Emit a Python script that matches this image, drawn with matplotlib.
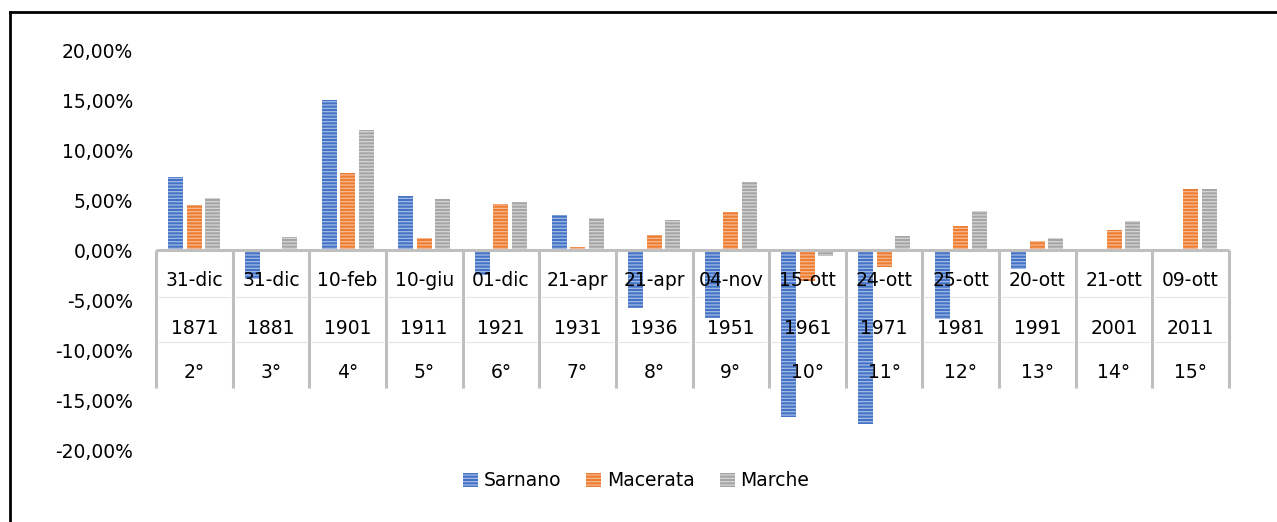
import matplotlib
matplotlib.use('Agg')
import matplotlib.pyplot as plt
from matplotlib.lines import Line2D
from matplotlib.patches import Patch
import numpy as np

# ---- data ----
dates = ['31-dic', '31-dic', '10-feb', '10-giu', '01-dic', '21-apr', '21-apr',
         '04-nov', '15-ott', '24-ott', '25-ott', '20-ott', '21-ott', '09-ott']
years = ['1871', '1881', '1901', '1911', '1921', '1931', '1936',
         '1951', '1961', '1971', '1981', '1991', '2001', '2011']
census = ['2°', '3°', '4°', '5°', '6°', '7°', '8°',
          '9°', '10°', '11°', '12°', '13°', '14°', '15°']
sarnano = [7.3, -2.9, 15.0, 5.4, -2.5, 3.5, -5.8, -6.8, -16.7, -17.4, -6.9, -1.9, 0.0, 0.0]
macerata = [4.5, 0.0, 7.7, 1.2, 4.6, 0.3, 1.5, 3.8, -3.1, -1.7, 2.4, 0.9, 2.0, 6.1]
marche = [5.2, 1.3, 12.0, 5.1, 4.8, 3.2, 3.0, 6.8, -0.6, 1.4, 3.9, 1.2, 2.9, 6.1]
series_names = ['Sarnano', 'Macerata', 'Marche']
yticks = [-20, -15, -10, -5, 0, 5, 10, 15, 20]

plt.rcParams['hatch.linewidth'] = 0.9
FONT = 13.5

W, H = 1277, 522
fig = plt.figure(figsize=(W / 100, H / 100), dpi=100)
ax = fig.add_axes([156 / W, (H - 450) / H, 1073 / W, 400 / H])

colors = ['#4472C4', '#ED7D31', '#A5A5A5']
hatch_colors = ['#A3BBE8', '#F7B993', '#D6D6D6']
series = [sarnano, macerata, marche]
HATCH = '-----'

n = len(dates)
x = np.arange(n)
step = 18.5 / 76.6
width = 15 / 76.6
for i, vals in enumerate(series):
    ax.bar(x + (i - 1) * step, vals, width, color=colors[i], edgecolor=hatch_colors[i],
           linewidth=0, hatch=HATCH, zorder=2)

ax.set_xlim(-0.5, n - 0.5)
ax.set_ylim(-20, 20)
ax.set_xticks([])
ax.set_yticks(yticks)
ax.set_yticklabels([f"{v:.2f}".replace('.', ',') + '%' for v in yticks])
ax.tick_params(axis='y', length=0, pad=16.5, labelsize=FONT, labelcolor='black')
for s in ax.spines.values():
    s.set_visible(False)

# zero axis line
ax.plot([-0.5, n - 0.5], [0, 0], color='#BFBFBF', lw=2.2, zorder=3, clip_on=False,
        solid_capstyle='butt')
# category table separators
for k in range(n + 1):
    ax.plot([k - 0.5, k - 0.5], [0, -13.8], color='#BFBFBF', lw=2.2, zorder=3,
            clip_on=False, solid_capstyle='butt')
for k in range(n):
    for yy in (-4.7, -9.2):
        ax.plot([k - 0.46, k + 0.46], [yy, yy], color='#E6E6E6', lw=0.8, zorder=1)
    ax.text(k, -3.1, dates[k], ha='center', va='center', fontsize=FONT, zorder=4)
    ax.text(k, -7.8, years[k], ha='center', va='center', fontsize=FONT, zorder=4)
    ax.text(k, -12.3, census[k], ha='center', va='center', fontsize=FONT, zorder=4)

handles = [Patch(facecolor=colors[i], edgecolor=hatch_colors[i], linewidth=0, hatch=HATCH)
           for i in range(3)]
fig.legend(handles, series_names, loc='center', bbox_to_anchor=(0.498, 1 - 481 / H),
           ncol=3, frameon=False, fontsize=FONT, handlelength=0.8, handleheight=0.75,
           handletextpad=0.3, columnspacing=1.35)

# chart border (left and top visible)
fig.add_artist(Line2D([10 / W, 10 / W], [0, 1 - 12 / H], color='black', lw=2, transform=fig.transFigure))
fig.add_artist(Line2D([10 / W, 1], [1 - 12 / H, 1 - 12 / H], color='black', lw=2, transform=fig.transFigure))

fig.savefig('out.png', dpi=100)
